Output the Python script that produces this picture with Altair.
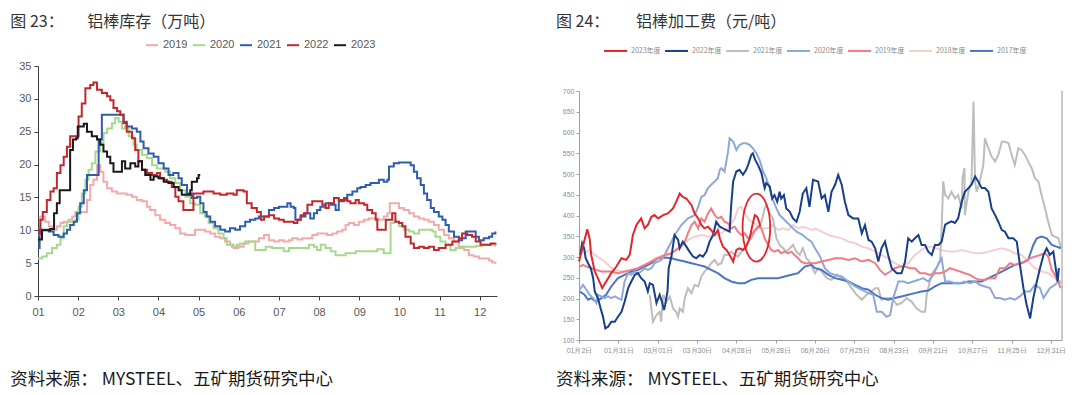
import altair as alt
import pandas as pd

# ================= Figure 23: 铝棒库存（万吨） =================
inv_years = ["2019", "2020", "2021", "2022", "2023"]
inv_colors = ["#F4AAAA", "#A6D98E", "#2F5DAE", "#C1272D", "#1A1A1A"]
month_labels = ["01", "02", "03", "04", "05", "06", "07", "08", "09", "10", "11", "12"]

inv_2019_m = [0, 0.06, 0.18, 0.27, 0.35, 0.47, 0.56, 0.64, 0.76, 0.85, 0.93, 1.05, 1.14, 1.22, 1.30, 1.38, 1.47, 1.55, 1.63, 1.72,
              1.84, 1.97, 2.09, 2.21, 2.34, 2.46, 2.59, 2.71, 2.79, 2.92, 3.04, 3.17, 3.29, 3.42, 3.54, 3.67, 3.79, 3.91, 4.04, 4.16,
              4.29, 4.41, 4.54, 4.66, 4.78, 4.87, 4.99, 5.12, 5.24, 5.36, 5.50, 5.63, 5.75, 5.88, 6.00, 6.12, 6.25, 6.33, 6.46, 6.58,
              6.71, 6.83, 6.95, 7.08, 7.20, 7.33, 7.45, 7.58, 7.66, 7.74, 7.87, 7.99, 8.12, 8.24, 8.37, 8.49, 8.61, 8.70, 8.76, 8.86,
              8.99, 9.11, 9.24, 9.36, 9.49, 9.61, 9.73, 9.86, 9.98, 10.11, 10.23, 10.36, 10.48, 10.61, 10.73, 10.85, 10.98, 11.10, 11.23, 11.31,
              11.39]
inv_2019_v = [9.3, 12.1, 11.3, 10.6, 10.1, 10.6, 11.1, 11.3, 11.6, 12.1, 12.8, 12.8, 12.8, 14.6, 16.9, 17.7, 19.9, 18.9, 17.4, 16.4,
              15.9, 15.6, 15.6, 15.4, 15.1, 14.6, 14.4, 13.6, 13.1, 12.3, 11.6, 11.1, 10.8, 10.3, 9.5, 9.3, 9.3, 10.1, 10.1, 9.8,
              9.5, 9.0, 8.8, 8.3, 7.8, 7.3, 7.5, 8.0, 8.3, 8.3, 8.8, 9.3, 8.5, 8.3, 8.5, 8.3, 8.5, 8.8, 8.6, 8.8,
              8.8, 9.3, 9.5, 9.5, 9.3, 9.5, 9.8, 10.1, 10.8, 11.1, 10.8, 11.3, 11.6, 11.8, 11.8, 11.6, 12.1, 12.6, 14.1, 14.1,
              13.4, 13.1, 12.6, 12.1, 11.8, 11.6, 11.3, 10.8, 10.1, 9.3, 8.8, 8.3, 7.5, 7.0, 6.2, 6.0, 5.7, 5.7, 5.4, 5.1,
              4.9]

inv_2020_m = [0, 0.10, 0.22, 0.35, 0.47, 0.56, 0.64, 0.72, 0.85, 0.93, 1.01, 1.09, 1.18, 1.26, 1.34, 1.43, 1.55, 1.63, 1.72, 1.84,
              1.92, 2.01, 2.09, 2.17, 2.26, 2.38, 2.46, 2.59, 2.71, 2.84, 2.96, 3.04, 3.17, 3.29, 3.42, 3.54, 3.67, 3.79, 3.91, 4.04,
              4.16, 4.25, 4.37, 4.49, 4.62, 4.70, 4.83, 4.95, 5.03, 5.16, 5.28, 5.41,
              5.55, 5.67, 5.83, 6.00, 6.12, 6.25, 6.37, 6.50, 6.62, 6.75, 6.87, 6.95, 7.04, 7.16, 7.29, 7.41, 7.54, 7.66, 7.78, 7.91,
              8.03, 8.16, 8.32, 8.45, 8.61, 8.74, 8.78, 8.86, 8.99, 9.11, 9.24, 9.36, 9.49, 9.61, 9.73, 9.82, 9.90, 10.02, 10.15, 10.27,
              10.40, 10.56, 10.73, 10.90, 11.06, 11.23, 11.39]
inv_2020_v = [5.7, 6.0, 6.5, 7.3, 7.8, 8.8, 10.6, 11.3, 11.3, 11.6, 13.6, 15.6, 17.7, 19.2, 20.2, 22.0, 23.2, 24.8, 25.5, 26.3,
              27.1, 26.5, 25.5, 25.8, 24.3, 23.0, 22.2, 21.5, 21.0, 19.9, 19.4, 19.4, 18.9, 17.9, 17.2, 16.1, 15.1, 14.1, 13.9, 12.6,
              12.1, 11.1, 10.3, 9.5, 8.8, 7.8, 7.5, 7.8, 8.0, 8.3, 8.3, 7.0,
              7.0, 7.5, 7.3, 7.3, 6.8, 7.3, 7.3, 7.3, 7.3, 7.8, 7.5, 7.0, 7.8, 7.3, 6.8, 6.2, 6.2, 6.5, 6.5, 6.8,
              6.8, 6.8, 6.8, 7.1, 6.5, 6.5, 11.1, 11.3, 10.6, 10.1, 9.8, 9.5, 10.1, 10.1, 10.1, 9.8, 9.0, 8.3, 7.8, 7.0,
              7.3, 7.5, 7.5, 7.6, 7.8, 7.8, 7.5]

inv_2021_m = [0, 0.04, 0.14, 0.27, 0.39, 0.51, 0.64, 0.72, 0.80, 0.89, 0.97, 1.05, 1.14, 1.22, 1.43, 1.51, 1.59, 2.09, 2.13, 2.21,
              2.34, 2.46, 2.55, 2.63, 2.75, 2.88, 3.00, 3.13, 3.25, 3.37, 3.50, 3.58, 3.71, 3.83, 3.96, 4.04, 4.12, 4.20, 4.29, 4.41,
              4.54, 4.66, 4.78, 4.91, 5.03, 5.16, 5.28, 5.41,
              5.50, 5.67, 5.75, 5.88, 6.00, 6.12, 6.21, 6.29, 6.37, 6.41, 6.54, 6.66, 6.78, 6.87, 6.95, 7.03, 7.16, 7.29, 7.41, 7.49,
              7.62, 7.70, 7.83, 7.95, 8.03, 8.16, 8.28, 8.41, 8.49, 8.61, 8.70, 8.74, 8.86, 8.99, 9.15, 9.28, 9.36, 9.44, 9.53, 9.61,
              9.69, 9.78, 9.86, 9.98, 10.07, 10.15, 10.23, 10.36, 10.48, 10.56, 10.65, 10.77, 10.90, 10.98, 11.10, 11.23, 11.31, 11.39]
inv_2021_v = [7.3, 10.1, 10.1, 9.8, 9.3, 9.0, 9.5, 10.1, 10.8, 11.3, 12.6, 14.1, 16.1, 18.4, 18.4, 23.8, 27.6, 27.6, 26.5, 25.8,
              25.5, 25.0, 23.5, 22.5, 21.7, 21.2, 20.2, 19.4, 18.4, 18.7, 17.9, 16.9, 15.6, 14.9, 15.1, 14.1, 12.8, 12.1, 11.3, 10.6,
              10.1, 9.8, 10.3, 10.1, 10.6, 11.3, 11.6, 11.8,
              12.1, 12.1, 13.1, 13.4, 13.6, 13.6, 14.1, 13.6, 13.4, 11.6, 12.1, 12.6, 11.8, 12.6, 13.1, 13.6, 14.1, 13.9, 13.1, 14.4,
              14.6, 15.4, 15.9, 16.4, 16.6, 16.9, 17.2, 17.2, 17.7, 17.4, 17.7, 19.7, 20.2, 20.3, 20.3, 19.9, 18.9, 17.9, 16.9, 15.6,
              14.6, 13.4, 12.8, 12.1, 11.6, 10.8, 9.8, 9.0, 8.5, 8.8, 9.8, 9.8, 9.0, 8.5, 8.8, 9.0, 9.5, 9.8]

inv_2022_m = [0, 0.06, 0.12, 0.22, 0.31, 0.39, 0.47, 0.56, 0.64, 0.72, 0.80, 0.93, 1.01, 1.09, 1.18, 1.30, 1.38, 1.47, 1.59, 1.72,
              1.80, 1.88, 1.97, 2.05, 2.13, 2.21, 2.34, 2.42, 2.50, 2.59, 2.71, 2.84, 2.96, 3.04, 3.13, 3.21, 3.33, 3.42, 3.50, 3.62,
              3.79, 3.87, 4.00, 4.12, 4.37, 4.54, 4.70, 4.87, 4.95, 5.12, 5.20, 5.32, 5.45,
              5.55, 5.63, 5.75, 5.88, 6.00, 6.12, 6.25, 6.37, 6.46, 6.54, 6.62, 6.71, 6.83, 7.00, 7.08, 7.16, 7.24, 7.37, 7.49, 7.62,
              7.70, 7.78, 7.91, 7.99, 8.12, 8.20, 8.32, 8.41, 8.45, 8.61, 8.66, 8.74, 8.82, 8.90, 8.99, 9.07, 9.15, 9.28, 9.36, 9.49,
              9.61, 9.73, 9.86, 9.98, 10.15, 10.32, 10.48, 10.56, 10.69, 10.81, 10.90, 11.02, 11.15, 11.27, 11.39]
inv_2022_v = [9.5, 11.6, 12.8, 14.6, 15.9, 16.4, 18.7, 19.9, 21.2, 22.7, 24.3, 24.3, 27.3, 29.3, 31.6, 32.1, 32.5, 31.4, 30.9, 30.4,
              29.8, 28.6, 28.1, 27.6, 26.3, 25.0, 24.0, 22.2, 20.5, 19.2, 18.7, 18.4, 18.7, 17.9, 17.7, 17.4, 16.6, 15.1, 14.4, 13.1,
              13.1, 15.6, 15.6, 15.9, 15.6, 15.4, 15.6, 15.4, 16.1, 15.9, 14.1, 13.4, 12.8,
              11.6, 12.1, 12.3, 11.8, 11.6, 11.3, 11.3, 11.1, 11.6, 12.3, 12.6, 13.9, 14.4, 14.4, 13.9, 13.4, 14.1, 14.9, 14.6, 14.9,
              14.4, 14.1, 14.6, 14.1, 13.9, 13.1, 12.6, 11.6, 10.1, 10.1, 11.6, 11.6, 12.6, 11.3, 11.1, 10.6, 9.0, 8.0, 7.3, 7.5,
              7.3, 7.5, 7.0, 7.3, 7.8, 8.3, 8.8, 9.5, 9.3, 9.0, 8.3, 7.8, 7.8, 8.0, 8.1]

inv_2023_m = [0, 0.10, 0.30, 0.40, 0.47, 0.54, 0.78, 0.80, 0.87, 0.95, 0.99, 1.14, 1.22, 1.34, 1.47, 1.55, 1.63, 1.72, 1.80, 1.88,
              2.00, 2.09, 2.17, 2.30, 2.42, 2.50, 2.59, 2.67, 2.80, 2.88, 3.00, 3.13, 3.25, 3.38, 3.50, 3.58, 3.71, 3.79, 3.83, 3.96,
              4.00, 4.04]
inv_2023_v = [8.6, 10.0, 10.2, 12.6, 14.1, 16.1, 16.1, 22.2, 23.8, 24.0, 25.8, 26.2, 25.0, 24.3, 23.8, 23.0, 22.0, 21.2, 20.2, 18.9,
              18.9, 20.5, 19.4, 20.2, 19.7, 20.5, 19.2, 18.4, 17.7, 18.2, 17.9, 17.4, 17.2, 16.6, 16.1, 15.4, 15.4, 16.1, 17.4, 17.9,
              18.4, 18.4]

# ================= Figure 24: 铝棒加工费（元/吨） =================
fee_years = ["2023年度", "2022年度", "2021年度", "2020年度", "2019年度", "2018年度", "2017年度"]
fee_colors = ["#E3262B", "#173F8A", "#BDBDBD", "#8EA8D8", "#F27C84", "#F5CFCF", "#4C74C0"]
fee_widths = [2.0, 2.0, 1.4, 1.4, 1.4, 1.4, 1.4]
fee_tick_labels = ["01月2日", "01月31日", "03月01日", "03月30日", "04月28日", "05月28日", "06月26日",
                   "07月25日", "08月23日", "09月21日", "10月27日", "11月25日", "12月31日"]

fee_2023_u = [0.0, 0.21, 0.27, 0.31, 0.40, 0.48, 0.59, 0.69, 0.82, 0.95, 1.08, 1.20, 1.29, 1.37, 1.46, 1.58, 1.67, 1.75, 1.84, 1.92,
              2.01, 2.14, 2.26, 2.39, 2.47, 2.56, 2.64, 2.73, 2.86, 2.94, 3.03, 3.11, 3.19, 3.28, 3.36, 3.45, 3.53, 3.58, 3.66, 3.75,
              3.83, 3.92, 4.00, 4.08, 4.17, 4.25, 4.34, 4.40, 4.47, 4.53, 4.58, 4.61]
fee_2023_v = [289, 367, 345, 305, 265, 249, 225, 241, 261, 277, 297, 293, 305, 353, 377, 393, 369, 377, 397, 401,
              393, 401, 405, 417, 433, 453, 445, 441, 425, 405, 393, 377, 369, 373, 365, 353, 365, 345, 325, 317,
              305, 289, 317, 321, 317, 325, 345, 373, 401, 397, 385, 373]

fee_2022_u = [0.03, 0.08, 0.13, 0.17, 0.23, 0.30, 0.36, 0.40, 0.48, 0.55, 0.61, 0.67, 0.74, 0.82, 0.91, 0.99, 1.08, 1.16, 1.25, 1.33,
              1.42, 1.50, 1.58, 1.67, 1.75, 1.80, 1.88, 1.97, 2.05, 2.11, 2.16, 2.19, 2.25, 2.28, 2.35, 2.43, 2.52, 2.56, 2.64, 2.73,
              2.81, 2.90, 2.98, 3.07, 3.15, 3.24, 3.32, 3.41, 3.49, 3.58, 3.66, 3.75, 3.83, 3.87, 3.92, 4.00, 4.08, 4.17, 4.25, 4.30,
              4.38, 4.42, 4.48, 4.55, 4.64, 4.72, 4.76, 4.85, 4.91, 4.97, 5.04, 5.10, 5.14, 5.21, 5.27, 5.36, 5.44, 5.53, 5.61, 5.69,
              5.78, 5.86, 5.95,
              6.08, 6.17, 6.25, 6.34, 6.42, 6.51, 6.59, 6.68, 6.76, 6.85, 6.97, 7.10, 7.19, 7.27, 7.36, 7.44, 7.53, 7.61, 7.69, 7.78,
              7.86, 7.95, 8.08, 8.20, 8.29, 8.37, 8.46, 8.54, 8.63, 8.71, 8.80, 8.88, 8.97, 9.05, 9.14, 9.22, 9.31, 9.39, 9.47, 9.56,
              9.64, 9.73, 9.81, 9.90, 9.98, 10.07, 10.15, 10.24, 10.32, 10.41, 10.49, 10.58, 10.66, 10.75, 10.83, 10.92, 11.04, 11.13, 11.21, 11.30,
              11.38, 11.47, 11.55, 11.64, 11.72, 11.81, 11.89, 11.97, 12.06, 12.12, 12.17, 12.20]
fee_2022_v = [305, 333, 321, 297, 285, 273, 249, 217, 201, 176, 156, 128, 132, 144, 144, 156, 168, 192, 225, 241,
              257, 261, 249, 241, 217, 237, 233, 189, 209, 192, 172, 185, 217, 273, 301, 353, 341, 321, 337, 325,
              313, 301, 297, 305, 301, 313, 337, 353, 385, 373, 369, 365, 361, 425, 482, 506, 510, 498, 510, 522,
              546, 550, 534, 522, 502, 466, 478, 470, 441, 449, 433, 457, 441, 449, 417, 409, 393, 385, 409, 453,
              466, 421, 486,
              482, 441, 449, 409, 457, 474, 498, 474, 433, 401, 393, 393, 357, 377, 341, 337, 321, 289, 321, 337,
              305, 273, 261, 261, 289, 345, 337, 345, 353, 329, 329, 313, 305, 329, 329, 337, 378, 382, 386, 382,
              393, 433, 457, 466, 474, 494, 482, 466, 466, 457, 417, 401, 385, 365, 361, 345, 345, 337, 281, 225,
              185, 152, 201, 241, 273, 305, 321, 305, 313, 273, 241, 273]

fee_2021_u = [1.80, 1.88, 1.97, 2.05, 2.09, 2.14, 2.22, 2.31, 2.39, 2.47, 2.52, 2.56, 2.64, 2.69, 2.77, 2.86, 2.94, 3.03, 3.11, 3.19,
              3.28, 3.36, 3.45, 3.53, 3.62, 3.70, 3.79, 3.87, 3.96, 4.04, 4.13, 4.21, 4.30, 4.38, 4.47, 4.55, 4.64, 4.72, 4.76, 4.85,
              4.93, 5.02, 5.10, 5.19, 5.27, 5.36, 5.44, 5.53, 5.61, 5.69, 5.78, 5.86,
              6.00, 6.08, 6.17, 6.30, 6.42, 6.55, 6.68, 6.81, 6.93, 7.06, 7.19, 7.31, 7.44, 7.53, 7.61, 7.69, 7.82, 7.95, 8.08, 8.20,
              8.33, 8.46, 8.58, 8.71, 8.80, 8.84, 8.92, 9.01, 9.09, 9.18, 9.22, 9.26, 9.31, 9.39, 9.47, 9.56, 9.64, 9.73, 9.75, 9.80,
              9.81, 9.90, 9.98, 10.03, 10.07, 10.11, 10.19, 10.28, 10.32, 10.41, 10.49, 10.58, 10.66, 10.75, 10.83, 10.92, 11.00, 11.08, 11.17, 11.25,
              11.34, 11.42, 11.51, 11.59, 11.68, 11.76, 11.85, 11.93, 12.02, 12.10, 12.19, 12.25]
fee_2021_v = [209, 144, 160, 168, 144, 209, 192, 205, 176, 168, 156, 176, 168, 201, 225, 213, 233, 229, 253, 265,
              273, 285, 293, 281, 285, 305, 305, 313, 305, 301, 313, 321, 337, 345, 361, 369, 385, 417, 425, 405,
              393, 345, 329, 321, 313, 321, 329, 313, 305, 321, 297, 289,
              261, 273, 265, 249, 245, 257, 249, 241, 225, 209, 197, 209, 217, 225, 225, 197, 201, 201, 185, 189,
              201, 192, 176, 168, 168, 209, 241, 265, 273, 289, 369, 482, 449, 441, 457, 441, 449, 417, 490, 514,
              401, 457, 482, 674, 482, 457, 482, 522, 586, 562, 542, 530, 546, 578, 578, 574, 546, 522, 562, 558,
              546, 530, 514, 490, 482, 449, 417, 385, 353, 349, 345, 321]

fee_2020_u = [0.02, 0.10, 0.19, 0.27, 0.36, 0.44, 0.48, 0.57, 0.65, 0.74, 0.82, 0.91, 0.99, 1.08, 1.16, 1.25, 1.33, 1.42, 1.50, 1.58,
              1.67, 1.75, 1.84, 1.92, 2.01, 2.09, 2.18, 2.26, 2.35, 2.43, 2.52, 2.60, 2.69, 2.77, 2.86, 2.94, 3.03, 3.11, 3.19, 3.28,
              3.36, 3.45, 3.53, 3.58, 3.62, 3.70, 3.79, 3.83, 3.92, 4.00, 4.08, 4.17, 4.25, 4.34, 4.42, 4.51, 4.59, 4.68, 4.76, 4.85,
              4.93, 5.02, 5.10, 5.19, 5.27, 5.36, 5.44, 5.53, 5.61, 5.69, 5.78, 5.91,
              6.00, 6.13, 6.25, 6.38, 6.51, 6.68, 6.85, 7.02, 7.19, 7.36, 7.48, 7.57, 7.69, 7.82, 7.91, 7.99, 8.12, 8.25, 8.37, 8.50,
              8.63, 8.75, 8.88, 9.01, 9.14, 9.22, 9.31, 9.43, 9.56, 9.69, 9.81, 9.94, 10.07, 10.19, 10.32, 10.45, 10.58, 10.70, 10.83, 10.96,
              11.08, 11.21, 11.34, 11.47, 11.59, 11.72, 11.81, 11.89, 11.97, 12.10, 12.19, 12.25]
fee_2020_v = [221, 233, 221, 209, 201, 189, 209, 205, 201, 205, 201, 205, 201, 197, 241, 261, 257, 265, 261, 265,
              273, 269, 273, 285, 289, 293, 305, 321, 337, 353, 365, 377, 385, 393, 397, 401, 421, 445, 449, 466,
              474, 482, 490, 510, 514, 506, 554, 586, 578, 558, 570, 574, 574, 570, 562, 550, 534, 506, 490, 466,
              437, 417, 401, 393, 385, 377, 369, 361, 357, 353, 345, 337,
              321, 301, 273, 261, 257, 253, 241, 229, 221, 213, 209, 168, 168, 156, 160, 201, 241, 241, 237, 241,
              245, 249, 241, 257, 285, 297, 241, 241, 237, 237, 241, 237, 241, 233, 229, 225, 201, 201, 197, 201,
              197, 205, 217, 217, 233, 225, 201, 213, 225, 233, 241, 237]

fee_2019_u = [0.02, 0.10, 0.19, 0.31, 0.44, 0.57, 0.69, 0.82, 0.99, 1.16, 1.33, 1.50, 1.67, 1.84, 2.01, 2.18, 2.35, 2.52, 2.69, 2.77,
              2.86, 2.94, 3.03, 3.11, 3.19, 3.28, 3.36, 3.45, 3.53, 3.62, 3.70, 3.79, 3.87, 3.96, 4.04, 4.13, 4.21, 4.30, 4.38, 4.47,
              4.55, 4.64, 4.72, 4.81, 4.89, 4.97, 5.06, 5.14, 5.23, 5.31, 5.40, 5.48, 5.57, 5.65, 5.74, 5.82, 5.95,
              6.00, 6.17, 6.34, 6.51, 6.68, 6.85, 7.02, 7.19, 7.36, 7.53, 7.65, 7.78, 7.91, 8.03, 8.16, 8.29, 8.42, 8.54, 8.67, 8.80,
              8.92, 9.05, 9.18, 9.31, 9.43, 9.56, 9.69, 9.81, 9.94, 10.07, 10.19, 10.32, 10.45, 10.58, 10.70, 10.83, 10.96, 11.08, 11.21, 11.34,
              11.47, 11.59, 11.72, 11.85, 11.93, 12.02, 12.10, 12.19, 12.25]
fee_2019_v = [277, 281, 277, 273, 269, 265, 265, 265, 261, 265, 269, 273, 281, 289, 297, 305, 309, 321, 337, 357,
              377, 385, 369, 393, 385, 405, 417, 401, 393, 397, 385, 381, 369, 373, 361, 353, 357, 345, 353, 365,
              373, 369, 345, 329, 317, 313, 317, 309, 313, 309, 313, 305, 297, 289, 285, 285, 285,
              285, 289, 293, 297, 297, 293, 297, 289, 293, 285, 269, 257, 265, 273, 277, 277, 273, 273, 261, 261,
              257, 261, 261, 265, 273, 269, 265, 261, 257, 249, 245, 245, 249, 249, 273, 273, 285, 281, 285, 289,
              297, 301, 305, 309, 301, 269, 257, 237, 225]

fee_2018_u = [0.02, 0.14, 0.27, 0.40, 0.53, 0.65, 0.78, 0.91, 1.08, 1.25, 1.42, 1.58, 1.75, 1.92, 2.09, 2.26, 2.43, 2.60, 2.77, 2.94,
              3.11, 3.28, 3.45, 3.62, 3.79, 3.96, 4.04, 4.13, 4.21, 4.30, 4.38, 4.47, 4.55, 4.68, 4.81, 4.93, 5.06, 5.19, 5.31, 5.44,
              5.57, 5.69, 5.82, 5.95,
              6.00, 6.17, 6.34, 6.51, 6.68, 6.85, 7.02, 7.19, 7.36, 7.53, 7.69, 7.86, 8.03, 8.20, 8.37, 8.54, 8.71, 8.84, 8.97, 9.09,
              9.22, 9.39, 9.56, 9.73, 9.90, 10.07, 10.24, 10.41, 10.58, 10.75, 10.92, 11.08, 11.25, 11.42, 11.59, 11.76, 11.93, 12.10, 12.25]
fee_2018_v = [313, 309, 317, 305, 297, 289, 277, 269, 265, 265, 269, 277, 285, 297, 301, 305, 313, 325, 341, 349,
              353, 349, 353, 357, 369, 393, 417, 421, 405, 393, 385, 381, 373, 369, 369, 377, 365, 369, 365, 377,
              369, 373, 369, 365,
              369, 361, 353, 349, 345, 337, 333, 325, 321, 313, 305, 297, 285, 277, 285, 305, 317, 325, 325, 321,
              317, 313, 313, 317, 313, 309, 309, 313, 317, 321, 317, 309, 305, 289, 273, 265, 261, 249, 241]

fee_2017_u = [0.02, 0.14, 0.23, 0.31, 0.44, 0.57, 0.69, 0.82, 0.99, 1.16, 1.33, 1.50, 1.67, 1.84, 2.01, 2.18, 2.35, 2.52, 2.69, 2.86,
              3.03, 3.19, 3.36, 3.53, 3.70, 3.87, 4.04, 4.21, 4.38, 4.55, 4.72, 4.89, 5.06, 5.23, 5.40, 5.57, 5.74, 5.91,
              6.00, 6.17, 6.34, 6.51, 6.68, 6.85, 7.02, 7.19, 7.36, 7.53, 7.69, 7.86, 8.03, 8.20, 8.37, 8.54, 8.71, 8.88, 9.05, 9.22,
              9.39, 9.56, 9.73, 9.90, 10.07, 10.24, 10.41, 10.58, 10.75, 10.92, 11.08, 11.25, 11.42, 11.55, 11.64, 11.76, 11.89, 12.02, 12.14, 12.25]
fee_2017_v = [217, 209, 197, 201, 192, 201, 209, 229, 249, 257, 265, 269, 277, 285, 297, 299, 297, 293, 289, 285,
              281, 277, 269, 261, 249, 241, 237, 237, 245, 249, 249, 249, 249, 253, 257, 261, 277, 281,
              273, 269, 257, 249, 245, 241, 233, 225, 221, 209, 201, 197, 201, 205, 209, 213, 217, 219, 229, 237,
              237, 237, 237, 241, 241, 241, 249, 257, 265, 273, 281, 285, 293, 329, 345, 349, 345, 329, 325, 321]

# annotation ellipse centre (data units of the right chart)
circle_u = [4.51]
circle_v = [371]


def frame(names, xs_list, vs_list):
    rows = []
    for name, xs, vs in zip(names, xs_list, vs_list):
        assert len(xs) == len(vs), (name, len(xs), len(vs))
        for x, v in zip(xs, vs):
            rows.append({"series": name, "x": x, "v": v})
    return pd.DataFrame(rows)


def js_array(items):
    return "[" + ",".join("'" + s + "'" for s in items) + "]"


def text_layer(txt, x, y, size, color, font="Noto Sans CJK SC"):
    return alt.Chart(pd.DataFrame({"t": [txt]})).mark_text(
        align="left", baseline="middle", fontSize=size, color=color, font=font
    ).encode(text="t:N", x=alt.value(x), y=alt.value(y))


TITLE_Y = -44.3     # title centre, relative to the common panel origin
SOURCE_Y = 313.7    # source line centre

# ---------------- left panel ----------------
LW, LH = 459, 230
inv_df = frame(inv_years,
               [inv_2019_m, inv_2020_m, inv_2021_m, inv_2022_m, inv_2023_m],
               [inv_2019_v, inv_2020_v, inv_2021_v, inv_2022_v, inv_2023_v])

left_lines = alt.Chart(inv_df).mark_line(interpolate="step-after", strokeWidth=2).encode(
    x=alt.X("x:Q", scale=alt.Scale(domain=[0, 11.43], nice=False, zero=False),
            axis=alt.Axis(values=list(range(12)), labelExpr=js_array(month_labels) + "[datum.value]",
                          title=None, grid=False, domainColor="#404040", tickColor="#404040",
                          tickSize=4, labelFontSize=11, labelColor="#595959", labelFont="Liberation Sans",
                          labelPadding=6, labelFlush=False)),
    y=alt.Y("v:Q", scale=alt.Scale(domain=[0, 35], nice=False),
            axis=alt.Axis(values=list(range(0, 36, 5)), title=None, grid=False, domainColor="#404040",
                          tickColor="#404040", tickSize=4, labelFontSize=11, labelColor="#595959",
                          labelFont="Liberation Sans", labelPadding=3)),
    color=alt.Color("series:N", scale=alt.Scale(domain=inv_years, range=inv_colors),
                    legend=alt.Legend(orient="none", legendX=107, legendY=-27.8, direction="horizontal",
                                      title=None, symbolType="stroke", symbolSize=144, symbolStrokeWidth=2,
                                      labelFontSize=11, labelColor="#595959", labelFont="Liberation Sans",
                                      columnPadding=1, labelOffset=4)),
)

left = alt.layer(
    left_lines,
    text_layer("图 23：", -27.7, TITLE_Y, 16, "#333333"),
    text_layer("铝棒库存（万吨）", 49.3, TITLE_Y, 16, "#333333"),
    text_layer("资料来源： MYSTEEL、五矿期货研究中心", -27.7, SOURCE_Y, 17.5, "#1A1A1A"),
).properties(width=LW, height=LH)

# ---------------- right panel ----------------
RW, RH = 483, 274      # panel height; plot area starts RTOP px lower than the left one
RTOP = 25
fee_df = frame(["2018年度", "2021年度", "2017年度", "2020年度", "2019年度", "2022年度", "2023年度"],
               [fee_2018_u, fee_2021_u, fee_2017_u, fee_2020_u, fee_2019_u, fee_2022_u, fee_2023_u],
               [fee_2018_v, fee_2021_v, fee_2017_v, fee_2020_v, fee_2019_v, fee_2022_v, fee_2023_v])

rx = alt.X("x:Q", scale=alt.Scale(domain=[0, 12.28], nice=False, zero=False),
           axis=alt.Axis(values=list(range(13)), labelExpr=js_array(fee_tick_labels) + "[datum.value]",
                         title=None, grid=False, domainColor="#A0A0A0", tickColor="#A0A0A0", tickSize=3,
                         labelFontSize=7, labelColor="#8C8C8C", labelFont="Liberation Sans",
                         labelPadding=3, labelFlush=False, labelOverlap=False))
ry = alt.Y("v:Q", scale=alt.Scale(domain=[100, 700], nice=False, zero=False, range=[RH, RTOP]),
           axis=alt.Axis(values=list(range(100, 701, 50)), title=None, grid=False, domainColor="#A0A0A0",
                         tickColor="#A0A0A0", tickSize=3, labelFontSize=7, labelColor="#8C8C8C",
                         labelFont="Liberation Sans", labelPadding=2))

right_lines = alt.Chart(fee_df).mark_line(interpolate="linear").encode(
    x=rx, y=ry,
    color=alt.Color("series:N", scale=alt.Scale(domain=fee_years, range=fee_colors),
                    legend=alt.Legend(orient="none", legendX=24, legendY=-27.8, direction="horizontal",
                                      title=None, symbolType="stroke", symbolSize=529, symbolStrokeWidth=2,
                                      labelFontSize=7, labelColor="#8C8C8C", labelFont="Noto Sans CJK SC",
                                      columnPadding=0, labelOffset=3)),
    strokeWidth=alt.StrokeWidth("series:N", scale=alt.Scale(domain=fee_years, range=fee_widths), legend=None),
)

ELLIPSE = "M -0.406 0 A 0.406 1 0 1 0 0.406 0 A 0.406 1 0 1 0 -0.406 0 Z"
circle = alt.Chart(pd.DataFrame({"x": circle_u, "v": circle_v})).mark_point(
    shape=ELLIPSE, size=4624, filled=False, stroke="#E3262B", strokeWidth=1.8, opacity=1
).encode(x=rx, y=ry)

border = alt.Chart(pd.DataFrame({"a": [0]})).mark_rule(color="#A6A6A6", strokeWidth=1.2).encode(
    x=alt.value(RW), y=alt.value(RTOP), y2=alt.value(RH))

right = alt.layer(
    right_lines, circle, border,
    text_layer("图 24：", -23, TITLE_Y, 16, "#333333"),
    text_layer("铝棒加工费（元/吨）", 57, TITLE_Y, 16, "#333333"),
    text_layer("资料来源： MYSTEEL、五矿期货研究中心", -23, SOURCE_Y, 17.5, "#1A1A1A"),
).properties(width=RW, height=RH)

chart = alt.hconcat(left, right, spacing=56).resolve_scale(
    color="independent", strokeWidth="independent"
).properties(
    padding={"left": 2, "top": 5, "right": 0, "bottom": 0}
).configure_view(stroke=None)

chart.save("out.html", embed_options={"renderer": "svg", "actions": False})
